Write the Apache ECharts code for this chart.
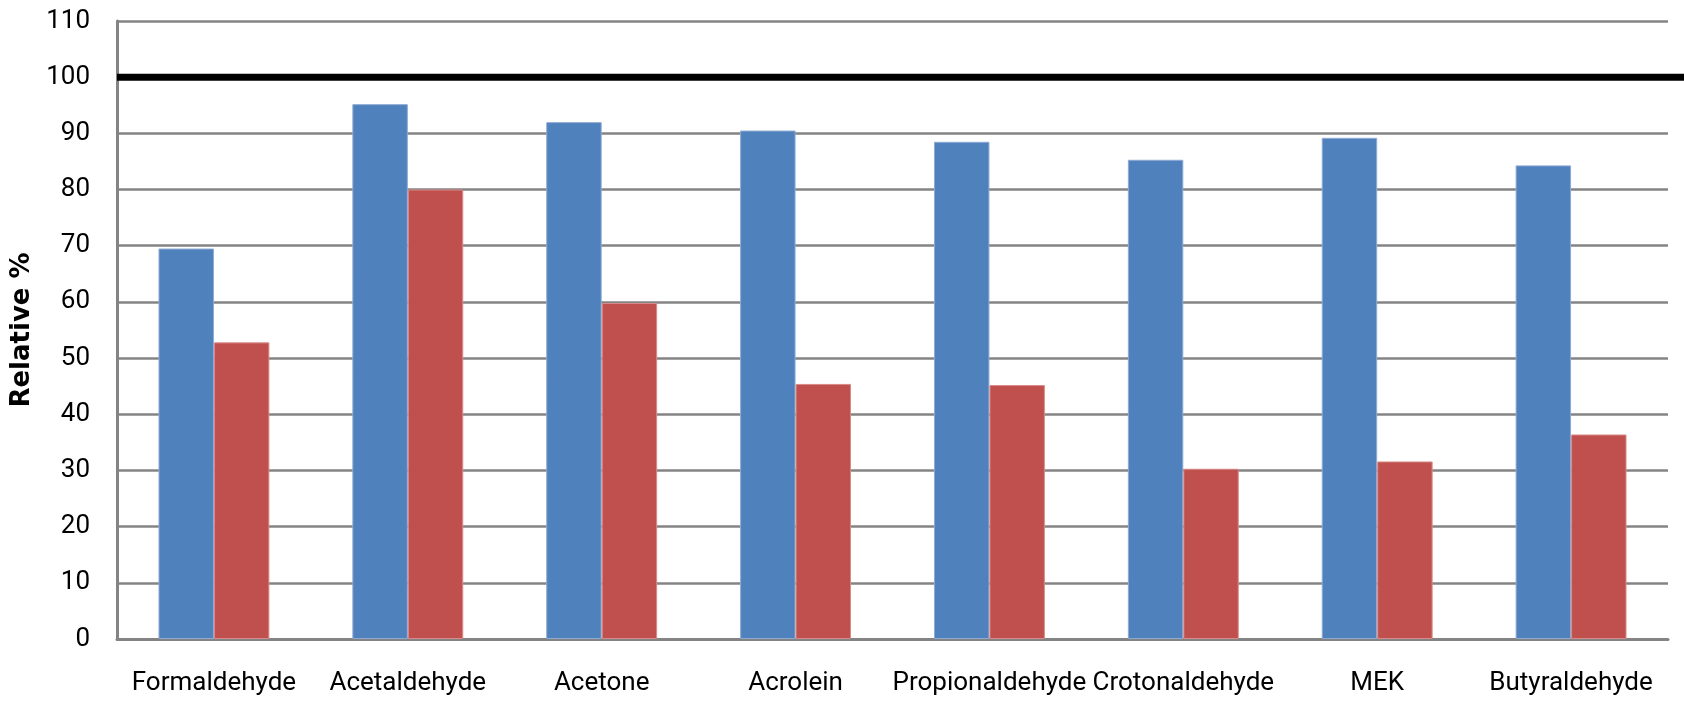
<!DOCTYPE html>
<html>
<head>
<meta charset="utf-8">
<script src="https://cdn.jsdelivr.net/npm/echarts@6/dist/echarts.min.js"></script>
<style>
  html, body { margin: 0; padding: 0; background: #ffffff; }
  #chart { width: 1684px; height: 704px; }
</style>
</head>
<body>
<div id="chart"></div>
<script>
// Compounds measured
const categories = ['Formaldehyde', 'Acetaldehyde', 'Acetone', 'Acrolein', 'Propionaldehyde', 'Crotonaldehyde', 'MEK', 'Butyraldehyde'];
// Relative recovery (%) for the two conditions
const seriesA = [69.5, 95.2, 92.0, 90.5, 88.5, 85.3, 89.2, 84.3];
const seriesB = [52.8, 80.0, 59.8, 45.4, 45.2, 30.3, 31.6, 36.4];
// Full-recovery reference level
const referenceLevel = 100;
// Value axis ticks
const yTicks = [0, 10, 20, 30, 40, 50, 60, 70, 80, 90, 100, 110];

const labelFont = 'Roboto, "Liberation Sans", Arial, sans-serif';
const gridColor = '#848484';

const chart = echarts.init(document.getElementById('chart'), null, { renderer: 'canvas' });

chart.setOption({
  backgroundColor: '#ffffff',
  animation: false,
  grid: { left: 117, right: 16, top: 21, bottom: 65, containLabel: false, outerBoundsMode: 'none' },
  xAxis: {
    type: 'category',
    data: categories,
    axisLine: { show: true, lineStyle: { color: gridColor, width: 3 } },
    axisTick: { show: false },
    axisLabel: {
      interval: 0,
      margin: 31,
      fontFamily: labelFont,
      fontSize: 26,
      color: '#000000'
    },
    splitLine: { show: false }
  },
  yAxis: {
    type: 'value',
    min: yTicks[0],
    max: yTicks[yTicks.length - 1],
    interval: yTicks[1] - yTicks[0],
    name: 'Relative %',
    nameLocation: 'middle',
    nameGap: 75,
    nameRotate: 90,
    nameTextStyle: {
      fontFamily: '"DejaVu Sans", Verdana, sans-serif',
      fontWeight: 'bold',
      fontSize: 26,
      color: '#000000'
    },
    axisLine: { show: true, lineStyle: { color: gridColor, width: 3 } },
    axisTick: { show: false },
    axisLabel: {
      margin: 27,
      fontFamily: labelFont,
      fontSize: 26,
      color: '#000000'
    },
    splitLine: { show: true, lineStyle: { color: gridColor, width: 2.5 } }
  },
  series: [
    {
      name: 'A',
      type: 'bar',
      data: seriesA,
      barWidth: '28.6%',
      barGap: '0%',
      itemStyle: { color: '#4F81BD', borderColor: '#8eaad3', borderWidth: 1 }
    },
    {
      name: 'B',
      type: 'bar',
      data: seriesB,
      barWidth: '28.6%',
      barGap: '0%',
      itemStyle: { color: '#C0504D', borderColor: '#d98a88', borderWidth: 1 }
    },
    {
      // 100 % reference line, running from the value axis to the right edge
      name: 'reference',
      type: 'custom',
      clip: false,
      silent: true,
      z: 5,
      data: [[0, referenceLevel]],
      renderItem: function (params, api) {
        const y = api.coord([0, api.value(1)])[1];
        const x0 = params.coordSys.x;
        const x1 = api.getWidth();
        return {
          type: 'line',
          shape: { x1: x0, y1: y, x2: x1, y2: y },
          style: { stroke: '#000000', lineWidth: 7 }
        };
      }
    }
  ]
});
</script>
</body>
</html>
